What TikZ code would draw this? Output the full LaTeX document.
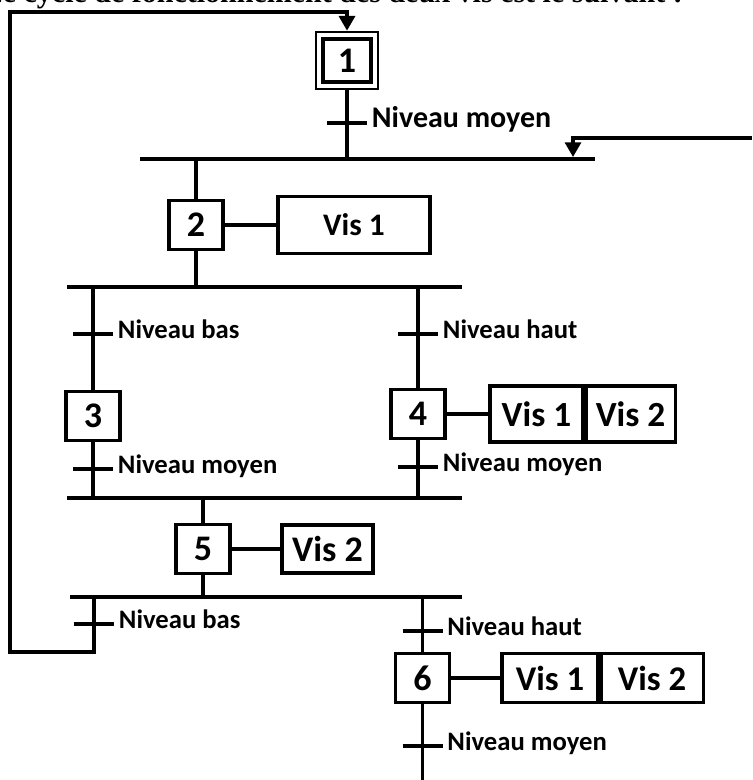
\documentclass[tikz,border=0pt]{standalone}
\usepackage{fontspec}
\setmainfont{Carlito}
\newfontfamily\titrefont{Liberation Serif}
\usetikzlibrary{arrows.meta}
\newcommand{\taille}[1]{\bfseries\fontsize{#1}{#1}\selectfont}

\tikzset{
  trait/.style={line width=2.3pt},
  fleche/.style={-{Triangle[width=12pt,length=11pt]}},
  etape/.style={draw, line width=2.3pt, inner sep=0pt, minimum width=40.5pt, minimum height=36.75pt, font=\taille{27}},
  action/.style={draw, line width=2.3pt, inner sep=0pt, font=\taille{26.5}},
  recept/.style={inner sep=0pt, text height=0.64em, text depth=0pt, font=\taille{20}}
}

\begin{document}
\begin{tikzpicture}[x=0.75pt, y=-0.75pt, label distance=18.5pt]
\useasboundingbox (0,0) rectangle (752,780);
\node[anchor=base east, inner sep=0pt, font=\titrefont\taille{22.5}] (titre) at (683,3) {Le cycle de fonctionnement des deux vis est le suivant :};

\node[etape, minimum width=36pt, minimum height=32.25pt] (1) at (347,60.5) {1};
\node[etape, minimum width=46.5pt, minimum height=42.75pt, line width=2pt] (1b) at (1) {};
\node[etape] (2) at (196,225) {2};
\node[etape] (3) at (93,416) {3};
\node[etape] (4) at (418,414) {4};
\node[etape] (5) at (203,549) {5};
\node[etape] (6) at (422.5,678) {6};

\node[action, minimum width=114pt, minimum height=42.75pt, font=\taille{23.5}] (a2) at (354,225) {Vis 1};
\node[action, minimum width=69.75pt, minimum height=42pt] (a4a) at (536.5,414) {Vis 1};
\node[action, minimum width=66.75pt, minimum height=42pt, anchor=west] (a4b) at (a4a.east) {Vis 2};
\node[action, minimum width=68.25pt, minimum height=36pt, font=\taille{27}] (a5) at (327.5,549) {Vis 2};
\node[action, minimum width=72pt, minimum height=36.75pt, font=\taille{26}] (a6a) at (550,678) {Vis 1};
\node[action, minimum width=76.5pt, minimum height=36.75pt, font=\taille{26}, anchor=west] (a6b) at (a6a.east) {Vis 2};

\coordinate (b1g) at (140,159); \coordinate (b1d) at (595,159);
\coordinate (b2g) at (67,287);  \coordinate (b2d) at (462,287);
\coordinate (b3g) at (67,498);  \coordinate (b3d) at (462,498);
\coordinate (b4g) at (70,597);  \coordinate (b4d) at (462,597);
\coordinate (b1r) at (573,157);
\coordinate (retour) at (752,138);
\coordinate (bas) at (10,652);
\coordinate (haut) at (10,12);
\coordinate (fin) at (422.5,780);

\coordinate [label={[recept, font=\taille{22.5}]right:Niveau moyen}] (t1) at (347,123);
\coordinate [label={[recept]right:Niveau bas}] (t2) at (93,334);
\coordinate [label={[recept]right:Niveau haut}] (t3) at (418,334);
\coordinate [label={[recept]right:Niveau moyen}] (t4) at (93,469);
\coordinate [label={[recept]right:Niveau moyen}] (t5) at (418,467);
\coordinate [label={[recept]right:Niveau bas}] (t6) at (94,624);
\coordinate [label={[recept]right:Niveau haut}] (t7) at (422.5,631);
\coordinate [label={[recept]right:Niveau moyen}] (t8) at (422.5,746);

\draw[trait] (b1g) -- (b1d) (b2g) -- (b2d) (b3g) -- (b3d) (b4g) -- (b4d);
\foreach \t in {t1,t2,t3,t4,t5,t6,t7,t8}
  \draw[trait] ([xshift=-15pt]\t) -- ([xshift=15pt]\t);

\draw[trait] (1b) -- (1b |- b1g);
\draw[trait] (2) -- (2 |- b1g) (2) -- (2 |- b2g);
\draw[trait] (3) -- (3 |- b2g) (3) -- (3 |- b3g);
\draw[trait] (4) -- (4 |- b2g) (4) -- (4 |- b3g);
\draw[trait] (5) -- (5 |- b3g) (5) -- (5 |- b4g);
\draw[trait] (6) -- (6 |- b4g) (6) -- (fin);

\draw[trait] (2) -- (a2) (4) -- (a4a) (5) -- (a5) (6) -- (a6a);

\draw[trait, fleche] (t6 |- b4g) -- (t6 |- bas) -- (bas) -- (haut) -- (1b |- haut) -- (1b);
\draw[trait, fleche] (retour) -| (b1r);
\end{tikzpicture}
\end{document}
